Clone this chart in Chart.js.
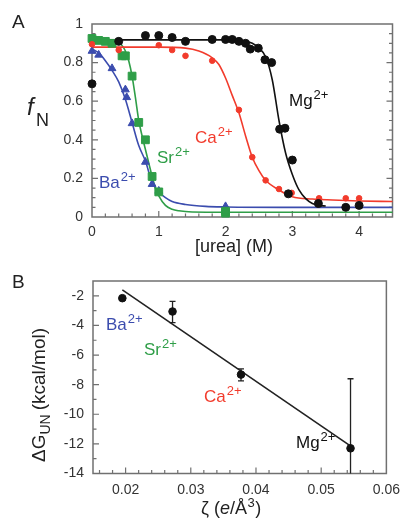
<!DOCTYPE html>
<html>
<head>
<meta charset="utf-8">
<script src="https://cdn.jsdelivr.net/npm/chart.js@4.4.0/dist/chart.umd.min.js"></script>
<style>
  body { margin: 0; background: #fff; width: 408px; height: 521px; overflow: hidden; position: relative; }
  .panel { position: absolute; left: 0; width: 408px; }
  #boxA { top: 0; height: 260px; }
  #boxB { top: 260px; height: 261px; }
</style>
</head>
<body>
<div class="panel" id="boxA"><canvas id="chartA" width="408" height="260"></canvas></div>
<div class="panel" id="boxB"><canvas id="chartB" width="408" height="261"></canvas></div>
<script>
// ── Panel A: fraction native vs [urea] ──
const ureaMg = [0, 0.4, 0.8, 1.0, 1.2, 1.4, 1.8, 2.0, 2.1, 2.2, 2.3, 2.37, 2.49, 2.59, 2.69, 2.81, 2.89, 2.94, 3.0, 3.39, 3.8, 4.0];
const fnMg   = [0.69, 0.91, 0.94, 0.94, 0.93, 0.91, 0.92, 0.92, 0.92, 0.91, 0.90, 0.87, 0.875, 0.815, 0.80, 0.455, 0.46, 0.12, 0.295, 0.07, 0.05, 0.06];
const ureaCa = [0, 0.4, 1.0, 1.2, 1.4, 1.8, 2.2, 2.4, 2.6, 2.8, 2.94, 2.99, 3.4, 3.8, 4.0];
const fnCa   = [0.895, 0.865, 0.89, 0.865, 0.835, 0.81, 0.555, 0.31, 0.19, 0.145, 0.12, 0.125, 0.097, 0.097, 0.097];
const ureaSr = [0, 0.1, 0.2, 0.3, 0.45, 0.5, 0.6, 0.7, 0.8, 0.9, 1.0, 2.0, 2.0];
const fnSr   = [0.925, 0.915, 0.91, 0.90, 0.835, 0.835, 0.73, 0.49, 0.40, 0.21, 0.13, 0.03, 0.02];
const ureaBa = [0, 0.1, 0.3, 0.5, 0.52, 0.6, 0.8, 0.9, 1.0, 2.0];
const fnBa   = [0.86, 0.84, 0.77, 0.66, 0.62, 0.485, 0.285, 0.17, 0.135, 0.055];

// fitted curves
const fitUreaMg = [0, 1, 2, 2.3, 2.4, 2.5, 2.6, 2.7, 2.8, 2.9, 3.0, 3.1, 3.2, 3.3, 3.4, 3.5];
const fitMg     = [0.918, 0.918, 0.918, 0.91, 0.90, 0.875, 0.83, 0.71, 0.50, 0.33, 0.22, 0.14, 0.095, 0.07, 0.06, 0.057];
const fitUreaCa = [0, 1, 1.4, 1.6, 1.8, 1.9, 2.0, 2.1, 2.2, 2.3, 2.4, 2.5, 2.6, 2.8, 3.0, 3.3, 3.6, 4.0, 4.5];
const fitCa     = [0.88, 0.88, 0.875, 0.86, 0.825, 0.79, 0.72, 0.63, 0.54, 0.42, 0.31, 0.24, 0.19, 0.14, 0.105, 0.093, 0.088, 0.083, 0.08];
const fitUreaSr = [0, 0.2, 0.4, 0.5, 0.55, 0.6, 0.65, 0.7, 0.75, 0.8, 0.85, 0.9, 0.95, 1.0, 1.1, 1.2, 1.3, 1.5, 2.0, 3.0, 4.5];
const fitSr     = [0.925, 0.92, 0.905, 0.86, 0.81, 0.73, 0.62, 0.5, 0.42, 0.35, 0.28, 0.21, 0.15, 0.11, 0.06, 0.04, 0.032, 0.026, 0.025, 0.025, 0.025];
const fitUreaBa = [0, 0.1, 0.2, 0.3, 0.4, 0.5, 0.6, 0.7, 0.8, 0.9, 1.0, 1.1, 1.2, 1.4, 1.7, 2.0, 3.0, 4.5];
const fitBa     = [0.87, 0.85, 0.81, 0.76, 0.70, 0.61, 0.49, 0.37, 0.29, 0.18, 0.13, 0.1, 0.08, 0.065, 0.055, 0.052, 0.05, 0.05];

const ureaTicks = [0, 1, 2, 3, 4];
const fnTicks = [0, 0.2, 0.4, 0.6, 0.8, 1];

// ── Panel B: dG vs charge density ──
const ionNames = ["Ba", "Sr", "Ca", "Mg"];
const zeta    = [0.0195, 0.0272, 0.0377, 0.0545];
const dG      = [-2.16, -3.06, -7.32, -12.3];
const dGErrHi = [null, -2.38, -6.94, -7.6];
const dGErrLo = [null, -3.81, -7.74, -15];
const fitZeta = [0.0195, 0.0547];
const fitDG   = [-1.6, -12.2];
const zetaTicks = [0.02, 0.03, 0.04, 0.05, 0.06];
const dGTicks = [-2, -4, -6, -8, -10, -12, -14];

const FONT = '"Liberation Sans", Arial, sans-serif';
const colMg = "#111111", colCa = "#f23b2c", colSr = "#2f9e48", colBa = "#3b4cae";

const pts = (xs, ys) => xs.map((x, i) => ({ x: x, y: ys[i] }));
const isMajor = (list, v) => list.some(m => Math.abs(m - v) < 1e-6);

function drawIon(ctx, x, y, name, color, size) {
    ctx.save();
    ctx.fillStyle = color;
    ctx.textAlign = "left";
    ctx.textBaseline = "alphabetic";
    ctx.font = size + "px " + FONT;
    ctx.fillText(name, x, y);
    const w = ctx.measureText(name).width;
    ctx.font = Math.round(size * 0.78) + "px " + FONT;
    ctx.fillText("2+", x + w + 1, y - size * 0.42);
    ctx.restore();
}

// frame + inward tick marks, positions from the chart's own scales
const frameTicks = {
    id: "frameTicks",
    beforeDatasetsDraw(chart, args, opts) {
        const ctx = chart.ctx, a = chart.chartArea;
        const xs = chart.scales.x, ys = chart.scales.y;
        ctx.save();
        ctx.strokeStyle = "#707070";
        ctx.lineWidth = 1.5;
        ctx.strokeRect(a.left, a.top, a.right - a.left, a.bottom - a.top);
        ctx.lineWidth = 1.2;
        ctx.beginPath();
        xs.ticks.forEach(t => {
            const p = xs.getPixelForValue(t.value);
            if (p <= a.left + 1 || p >= a.right - 1) return;
            const len = t.label ? 6 : 3.5;
            ctx.moveTo(p, a.bottom); ctx.lineTo(p, a.bottom - len);
        });
        ys.ticks.forEach(t => {
            const p = ys.getPixelForValue(t.value);
            if (p <= a.top + 1 || p >= a.bottom - 1) return;
            const len = t.label ? 6 : 3.5;
            ctx.moveTo(a.left, p); ctx.lineTo(a.left + len, p);
            if (opts.right) { ctx.moveTo(a.right, p); ctx.lineTo(a.right - len, p); }
        });
        ctx.stroke();
        ctx.restore();
    }
};

const tickFont = { family: FONT, size: 14 };

// ── Chart A ──
new Chart(document.getElementById("chartA"), {
    type: "scatter",
    data: {
        datasets: [
            { data: pts(ureaMg, fnMg), pointStyle: "circle", pointRadius: 4, backgroundColor: colMg, borderColor: colMg, order: 1 },
            { data: pts(ureaCa, fnCa), pointStyle: "circle", pointRadius: 2.8, backgroundColor: colCa, borderColor: colCa, order: 1 },
            { data: pts(ureaSr, fnSr), pointStyle: "rect", pointRadius: 5.5, backgroundColor: colSr, borderColor: colSr, order: 1 },
            { data: pts(ureaBa, fnBa), pointStyle: "triangle", pointRadius: 4.5, backgroundColor: colBa, borderColor: colBa, order: 1 },
            { data: pts(fitUreaMg, fitMg), showLine: true, pointRadius: 0, borderColor: colMg, borderWidth: 1.6, cubicInterpolationMode: "monotone", order: 2 },
            { data: pts(fitUreaCa, fitCa), showLine: true, pointRadius: 0, borderColor: colCa, borderWidth: 1.6, cubicInterpolationMode: "monotone", order: 2 },
            { data: pts(fitUreaSr, fitSr), showLine: true, pointRadius: 0, borderColor: colSr, borderWidth: 1.6, cubicInterpolationMode: "monotone", order: 2 },
            { data: pts(fitUreaBa, fitBa), showLine: true, pointRadius: 0, borderColor: colBa, borderWidth: 1.6, cubicInterpolationMode: "monotone", order: 2 }
        ]
    },
    options: {
        responsive: false,
        animation: false,
        clip: false,
        layout: { padding: { left: 0, right: 15.5, top: 24, bottom: 0 } },
        plugins: {
            legend: { display: false },
            tooltip: { enabled: false },
            frameTicks: { right: true }
        },
        scales: {
            x: {
                type: "linear", min: 0, max: 4.5,
                afterBuildTicks: s => { const t = []; for (let i = 0; i <= 22; i++) t.push({ value: i * 0.2 }); s.ticks = t; },
                afterFit: s => { s.height = 43; },
                grid: { display: false, drawTicks: false },
                border: { display: false },
                ticks: {
                    autoSkip: false, maxRotation: 0, padding: 7, color: "#333", font: tickFont,
                    callback: v => isMajor(ureaTicks, v) ? String(Math.round(v)) : ""
                }
            },
            y: {
                type: "linear", min: 0, max: 1,
                afterBuildTicks: s => { const t = []; for (let i = 0; i <= 20; i++) t.push({ value: i * 0.05 }); s.ticks = t; },
                afterFit: s => { s.width = 92; },
                grid: { display: false, drawTicks: false },
                border: { display: false },
                ticks: {
                    autoSkip: false, padding: 9, color: "#333", font: tickFont,
                    callback: v => isMajor(fnTicks, v) ? (Math.abs(v) < 1e-6 ? "0" : Math.abs(v - 1) < 1e-6 ? "1" : v.toFixed(1)) : ""
                }
            }
        }
    },
    plugins: [frameTicks, {
        id: "textA",
        afterDraw(chart) {
            const ctx = chart.ctx;
            ctx.save();
            ctx.fillStyle = "#222";
            ctx.font = "19px " + FONT;
            ctx.fillText("A", 12, 28);
            ctx.textAlign = "center";
            ctx.font = "18px " + FONT;
            ctx.fillText("[urea] (M)", 234, 252);
            ctx.textAlign = "left";
            ctx.font = "italic 24px " + FONT;
            ctx.fillText("f", 27, 115);
            ctx.font = "18px " + FONT;
            ctx.fillText("N", 36, 126);
            ctx.restore();
            drawIon(ctx, 289, 106, "Mg", colMg, 17);
            drawIon(ctx, 195, 143, "Ca", colCa, 17);
            drawIon(ctx, 157, 163, "Sr", colSr, 17);
            drawIon(ctx, 99, 188, "Ba", colBa, 17);
        }
    }]
});

// ── Chart B ──
new Chart(document.getElementById("chartB"), {
    type: "scatter",
    data: {
        datasets: [
            { data: pts(zeta, dG), pointStyle: "circle", pointRadius: 3.8, backgroundColor: "#111", borderColor: "#111", order: 1 },
            { data: pts(fitZeta, fitDG), showLine: true, pointRadius: 0, borderColor: "#222", borderWidth: 1.6, order: 2 }
        ]
    },
    options: {
        responsive: false,
        animation: false,
        clip: false,
        layout: { padding: { left: 0, right: 15, top: 21, bottom: 0 } },
        plugins: {
            legend: { display: false },
            tooltip: { enabled: false },
            frameTicks: { right: false }
        },
        scales: {
            x: {
                type: "linear", min: 0.015, max: 0.06,
                afterBuildTicks: s => { const t = []; for (let i = 0; i <= 22; i++) t.push({ value: 0.016 + i * 0.002 }); s.ticks = t; },
                afterFit: s => { s.height = 47.5; },
                grid: { display: false, drawTicks: false },
                border: { display: false },
                ticks: {
                    autoSkip: false, maxRotation: 0, padding: 8, color: "#333", font: tickFont,
                    callback: v => isMajor(zetaTicks, v) ? v.toFixed(2) : ""
                }
            },
            y: {
                type: "linear", min: -14, max: -1,
                afterBuildTicks: s => { const t = []; for (let v = -14; v <= -1; v++) t.push({ value: v }); s.ticks = t; },
                afterFit: s => { s.width = 93; },
                grid: { display: false, drawTicks: false },
                border: { display: false },
                ticks: {
                    autoSkip: false, padding: 9, color: "#333", font: tickFont,
                    callback: v => isMajor(dGTicks, v) ? String(v) : ""
                }
            }
        }
    },
    plugins: [frameTicks, {
        id: "errB",
        beforeDatasetsDraw(chart) {
            const ctx = chart.ctx, a = chart.chartArea;
            const xs = chart.scales.x, ys = chart.scales.y;
            ctx.save();
            ctx.strokeStyle = "#222";
            ctx.lineWidth = 1.3;
            zeta.forEach((z, i) => {
                if (dGErrHi[i] === null) return;
                const px = xs.getPixelForValue(z);
                const top = ys.getPixelForValue(dGErrHi[i]);
                const rawBot = ys.getPixelForValue(dGErrLo[i]);
                const bot = Math.min(rawBot, a.bottom);
                ctx.beginPath();
                ctx.moveTo(px, top); ctx.lineTo(px, bot);
                ctx.moveTo(px - 3, top); ctx.lineTo(px + 3, top);
                if (rawBot <= a.bottom) { ctx.moveTo(px - 3, bot); ctx.lineTo(px + 3, bot); }
                ctx.stroke();
            });
            ctx.restore();
        },
        afterDraw(chart) {
            const ctx = chart.ctx;
            ctx.save();
            ctx.fillStyle = "#222";
            ctx.font = "19px " + FONT;
            ctx.fillText("B", 12, 28);
            // x title: ζ (e/Å³)
            ctx.font = "18px " + FONT;
            let x = 201;
            const y = 254;
            ctx.fillText("ζ (", x, y); x += ctx.measureText("ζ (").width;
            ctx.font = "italic 18px " + FONT;
            ctx.fillText("e", x, y); x += ctx.measureText("e").width;
            ctx.font = "18px " + FONT;
            ctx.fillText("/Å", x, y); x += ctx.measureText("/Å").width;
            ctx.font = "13px " + FONT;
            ctx.fillText("3", x + 0.5, y - 7); x += ctx.measureText("3").width + 1;
            ctx.font = "18px " + FONT;
            ctx.fillText(")", x, y);
            // y title: ΔG_UN (kcal/mol), rotated
            ctx.translate(45, 202);
            ctx.rotate(-Math.PI / 2);
            let t = 0;
            ctx.font = "19px " + FONT;
            ctx.fillText("ΔG", t, 0); t += ctx.measureText("ΔG").width;
            ctx.font = "14px " + FONT;
            ctx.fillText("UN", t, 5); t += ctx.measureText("UN").width + 4;
            ctx.font = "19px " + FONT;
            ctx.fillText("(kcal/mol)", t, 0);
            ctx.restore();
            const ionCols = [colBa, colSr, colCa, colMg];
            const ionPos = [[106, 70], [144, 95], [204, 142], [296, 188]];
            ionNames.forEach((n, i) => drawIon(ctx, ionPos[i][0], ionPos[i][1], n, ionCols[i], 17));
        }
    }]
});
</script>
</body>
</html>
